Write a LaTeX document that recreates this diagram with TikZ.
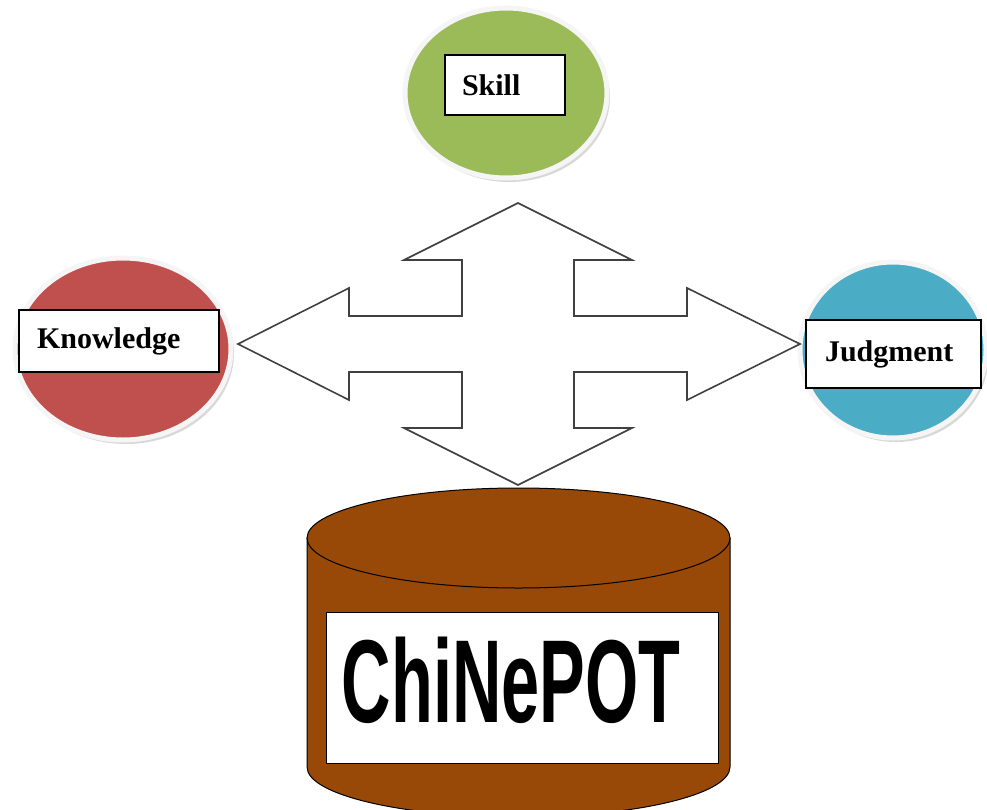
\documentclass[tikz,border=0pt]{standalone}
\usepackage{fontspec}
\setmainfont{Liberation Serif}
\newfontfamily\potfont{Liberation Sans}
\usetikzlibrary{shapes.geometric,shadows}

\definecolor{skillgreen}{HTML}{9BBB59}
\definecolor{knowred}{HTML}{C0504D}
\definecolor{judgeblue}{HTML}{4BACC6}
\definecolor{potbrown}{HTML}{984807}

\begin{document}
\begin{tikzpicture}[x=1pt, y=-1pt,
    bubble/.style = {shape=ellipse, draw=black!4, line width=5pt,
      drop shadow={shadow xshift=3pt, shadow yshift=-4pt, fill=black!30}},
    tag/.style = {shape=rectangle, draw=black, line width=1.2pt, fill=white,
      align=left, inner ysep=0pt, font=\bfseries\fontsize{30}{30}\selectfont},
    bigarrow/.style = {draw=black!75, line width=1.6pt, fill=white, line join=miter},
    potside/.style = {fill=potbrown, draw=black, line width=1pt}]
  \useasboundingbox (0,0) rectangle (987,809);

  % the three bubbles
  \node[bubble, fill=skillgreen, minimum width=202pt, minimum height=170pt] (skill) at (506,93) {};
  \node[bubble, fill=knowred, minimum width=216pt, minimum height=182pt] (know) at (123,349) {};
  \node[bubble, fill=judgeblue, minimum width=186pt, minimum height=176pt] (judge) at (893,350) {};

  \node[tag, text width=86pt, inner xsep=17pt, minimum height=60pt] (skilltag) at (505,85) {Skill};
  \node[tag, text width=164pt, inner xsep=18pt, minimum height=62pt] (knowtag) at (119,341) {Knowledge};
  \node[tag, text width=137pt, inner xsep=19pt, minimum height=68pt] (judgetag) at (893.5,354) {Judgment};

  % four way arrow
  \coordinate (hub) at (518,344);
  \draw[bigarrow, shift={(hub)}] (0,-141) -- (114,-84) -- (56,-84) -- (56,-28)
    -- (169,-28) -- (169,-56) -- (282,0) -- (169,56) -- (169,28) -- (56,28)
    -- (56,84) -- (114,84) -- (0,141) -- (-114,84) -- (-56,84) -- (-56,28)
    -- (-169,28) -- (-169,56) -- (-280,0) -- (-169,-56) -- (-169,-28)
    -- (-56,-28) -- (-56,-84) -- (-114,-84) -- cycle;

  % the pot
  \draw[potside] (307,538) -- (307,767)
    arc[start angle=180, end angle=0, x radius=211.5, y radius=50] -- (730,538) -- cycle;
  \draw[potside] (518.5,538) ellipse [x radius=211.5, y radius=50];
  \node[draw=black, line width=1pt, fill=white, minimum width=392pt, minimum height=151pt,
    inner sep=0pt] (potbox) at (522,687.5) {};
  \node[inner sep=0pt, font=\potfont\bfseries\fontsize{118}{118}\selectfont] (pot) at (511,680)
    {\scalebox{0.58}[1]{ChiNePOT}};
\end{tikzpicture}
\end{document}
